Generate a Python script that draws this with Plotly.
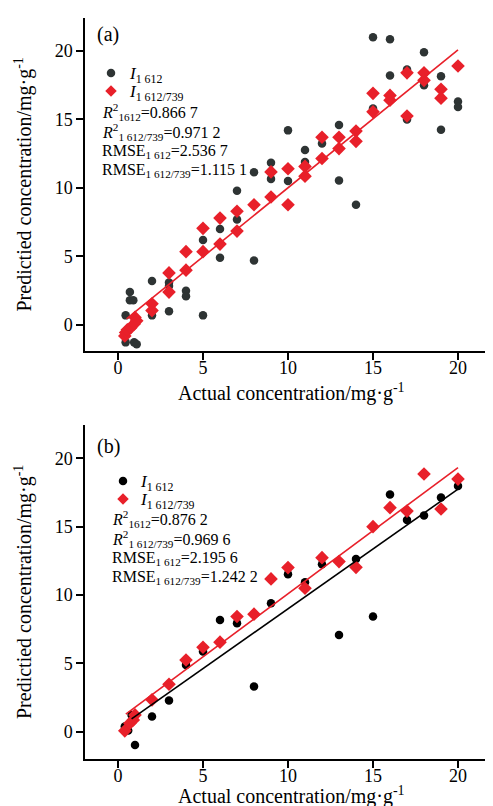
import plotly.graph_objects as go

# ---------------- data ----------------
# Panel (a)
a_i1612_x = [0.45, 0.45, 0.7, 0.7, 0.9, 0.95, 1.1, 2, 2, 3, 3, 3, 4, 4, 5, 5, 6, 6, 7, 7,
             8, 8, 9, 9, 10, 10, 11, 11, 12, 13, 13, 14, 15, 15, 16, 16, 17, 17, 18, 18,
             19, 19, 20, 20]
a_i1612_y = [0.7, -1.27, 2.4, 1.8, 1.8, -1.27, -1.4, 3.2, 0.7, 3.1, 2.85, 1.0, 2.5, 2.1,
             6.2, 0.7, 7.0, 4.9, 7.7, 9.8, 11.15, 4.7, 11.84, 10.66, 14.2, 10.5, 12.77,
             11.9, 13.25, 14.6, 10.55, 8.77, 21.0, 15.8, 20.85, 18.2, 18.65, 15.0, 19.9,
             17.5, 18.15, 14.25, 16.3, 15.9]
a_ratio_x = [0.4, 0.45, 0.55, 0.75, 0.95, 1.0, 1.1, 2, 2, 3, 3, 4, 4, 5, 5, 6, 6, 7, 7, 8,
             9, 9, 10, 10, 11, 11, 12, 12, 13, 13, 14, 14, 15, 15, 16, 16, 17, 17, 18, 18,
             19, 19, 20]
a_ratio_y = [-0.8, -0.55, -0.35, -0.2, 0.07, 0.55, 0.3, 1.55, 1.05, 3.8, 2.4, 5.35, 4.0,
             7.05, 5.35, 7.8, 5.9, 8.3, 6.85, 8.77, 11.17, 9.34, 11.4, 8.77, 11.57, 10.86,
             13.7, 12.15, 13.7, 12.87, 14.15, 13.4, 16.9, 15.55, 16.75, 16.4, 18.4, 15.25,
             18.4, 17.85, 17.2, 16.55, 18.9]
a_fit_ratio = {"slope": 1.006, "intercept": -0.05, "x0": 0.5, "x1": 20}

# Panel (b)
b_i1612_x = [0.4, 0.6, 0.8, 1.0, 2, 3, 4, 5, 6, 7, 8, 9, 10, 11, 12, 13, 14, 15, 16, 17,
             18, 19, 20]
b_i1612_y = [0.38, 0.09, 1.23, -0.97, 1.11, 2.28, 4.89, 5.87, 8.18, 7.94, 3.31, 9.40,
             11.52, 10.94, 12.25, 7.08, 12.64, 8.43, 17.37, 15.49, 15.82, 17.15, 17.98]
b_ratio_x = [0.4, 0.7, 0.9, 1.0, 2, 3, 4, 5, 6, 7, 8, 9, 10, 11, 12, 13, 14, 15, 16, 17,
             18, 19, 20]
b_ratio_y = [0.06, 0.62, 0.86, 1.23, 2.33, 3.47, 5.25, 6.18, 6.55, 8.43, 8.6, 11.18,
             12.01, 10.5, 12.74, 12.45, 12.03, 15.01, 16.4, 16.15, 18.86, 16.3, 18.49]
b_fit_i1612 = {"slope": 0.876, "intercept": 0.235, "x0": 0.8, "x1": 20}
b_fit_ratio = {"slope": 0.924, "intercept": 0.855, "x0": 0.46, "x1": 20}

ticks = [0, 5, 10, 15, 20]

stats_a = ["<i>R</i><sup>2</sup><sub>1612</sub>=0.866 7",
           "<i>R</i><sup>2</sup><sub>1 612/739</sub>=0.971 2",
           "RMSE<sub>1 612</sub>=2.536 7",
           "RMSE<sub>1 612/739</sub>=1.115 1"]
stats_b = ["<i>R</i><sup>2</sup><sub>1612</sub>=0.876 2",
           "<i>R</i><sup>2</sup><sub>1 612/739</sub>=0.969 6",
           "RMSE<sub>1 612</sub>=2.195 6",
           "RMSE<sub>1 612/739</sub>=1.242 2"]

name_i = "<i>I</i><sub>1 612</sub>"
name_r = "<i>I</i><sub>1 612/739</sub>"
x_title = "Actual concentration/mg·g<sup>-1</sup>"
y_title = "Predictied concentration/mg·g<sup>-1</sup>"

# ---------------- styling ----------------
FONT = "Liberation Serif"
RED = "#e8202a"
DARK = "#2e3434"
BLACK = "#000000"
W, H = 493, 806
ML, MR, MT, MB = 77, 3, 10, 55
PW, PH = W - ML - MR, H - MT - MB
C_SIZE, D_SIZE = 8.5, 10.5


def px_x(p):
    return (p - ML) / PW


def px_y(p):
    return (H - MB - p) / PH


def fit_line(f):
    xs = [f["x0"], f["x1"]]
    return xs, [f["slope"] * v + f["intercept"] for v in xs]


fig = go.Figure()

# panel (a)
fig.add_trace(go.Scatter(x=a_i1612_x, y=a_i1612_y, mode="markers", name=name_i,
                         marker=dict(symbol="circle", size=C_SIZE, color=DARK),
                         xaxis="x", yaxis="y", showlegend=False))
fig.add_trace(go.Scatter(x=a_ratio_x, y=a_ratio_y, mode="markers", name=name_r,
                         marker=dict(symbol="diamond", size=D_SIZE, color=RED),
                         xaxis="x", yaxis="y", showlegend=False))
lx, ly = fit_line(a_fit_ratio)
fig.add_trace(go.Scatter(x=lx, y=ly, mode="lines", line=dict(color=RED, width=1.6),
                         showlegend=False, xaxis="x", yaxis="y"))

# panel (b)
fig.add_trace(go.Scatter(x=b_i1612_x, y=b_i1612_y, mode="markers", name=name_i,
                         marker=dict(symbol="circle", size=C_SIZE, color=BLACK),
                         xaxis="x2", yaxis="y2", showlegend=False))
fig.add_trace(go.Scatter(x=b_ratio_x, y=b_ratio_y, mode="markers", name=name_r,
                         marker=dict(symbol="diamond", size=D_SIZE, color=RED),
                         xaxis="x2", yaxis="y2", showlegend=False))
lx, ly = fit_line(b_fit_i1612)
fig.add_trace(go.Scatter(x=lx, y=ly, mode="lines", line=dict(color=BLACK, width=1.6),
                         showlegend=False, xaxis="x2", yaxis="y2"))
lx, ly = fit_line(b_fit_ratio)
fig.add_trace(go.Scatter(x=lx, y=ly, mode="lines", line=dict(color=RED, width=1.6),
                         showlegend=False, xaxis="x2", yaxis="y2"))

axis_common = dict(showline=True, linecolor="black", linewidth=1.5, ticks="outside",
                   ticklen=7, tickwidth=1.5, tickcolor="black", showgrid=False,
                   zeroline=False, tickvals=ticks, mirror=False,
                   tickfont=dict(family=FONT, size=18, color="black"))
x_axis_common = dict(axis_common, ticklabelstandoff=-7)
y_axis_common = dict(axis_common, ticklabelstandoff=0)

xr = [(ML - 110) / 17.0, (W - MR - 110) / 17.0]
top_a, bot_a = 10, 343
top_b, bot_b = 417, 751

fig.update_layout(
    width=W, height=H,
    margin=dict(l=ML, r=MR, t=MT, b=MB),
    paper_bgcolor="white", plot_bgcolor="white",
    font=dict(family=FONT, color="black"),
    showlegend=False,
    xaxis=dict(x_axis_common, range=xr, anchor="y", domain=[0, 1]),
    yaxis=dict(y_axis_common, range=[-1.9, 22.4], anchor="x",
               domain=[px_y(bot_a), px_y(top_a)]),
    xaxis2=dict(x_axis_common, range=xr, anchor="y2", domain=[0, 1]),
    yaxis2=dict(y_axis_common, range=[-2.0, 22.45], anchor="x2",
                domain=[px_y(bot_b), px_y(top_b)]),
)

# legend keys drawn as pixel-sized shapes
shapes = []


def circle_key(cx, cy, color):
    r = C_SIZE / 2
    shapes.append(dict(type="circle", xref="paper", yref="paper",
                       xsizemode="pixel", ysizemode="pixel",
                       xanchor=px_x(cx), yanchor=px_y(cy),
                       x0=-r, x1=r, y0=-r, y1=r,
                       fillcolor=color, line=dict(width=0)))


def diamond_key(cx, cy, color):
    r = D_SIZE / 2 + 0.5
    shapes.append(dict(type="path", xref="paper", yref="paper",
                       xsizemode="pixel", ysizemode="pixel",
                       xanchor=px_x(cx), yanchor=px_y(cy),
                       path=f"M0,{r} L{r},0 L0,{-r} L{-r},0 Z",
                       fillcolor=color, line=dict(width=0)))


circle_key(103, 65, DARK)
diamond_key(103, 83, RED)
circle_key(115, 473, BLACK)
diamond_key(115, 491, RED)
fig.update_layout(shapes=shapes)

ann = []


def label(txt, x, y, size, **kw):
    d = dict(text=txt, x=px_x(x), y=px_y(y), xref="paper", yref="paper",
             xanchor="left", yanchor="middle", showarrow=False,
             font=dict(family=FONT, size=size, color="black"))
    d.update(kw)
    ann.append(d)


label("(a)", 87, 27, 20)
label("(b)", 87, 438, 20)
label(name_i, 119, 67, 17)
label(name_r, 119, 85, 17)
label(name_i, 130, 475, 17)
label(name_r, 130, 493, 17)
for txt, yy in zip(stats_a, [104, 124, 143.5, 163]):
    label(txt, 92, yy, 16)
for txt, yy in zip(stats_b, [511, 530.5, 550, 569]):
    label(txt, 102, yy, 16)
# axis titles
label(x_title, (ML + W - MR) / 2, 384, 20, xanchor="center")
label(x_title, (ML + W - MR) / 2, 788, 20, xanchor="center")
label(y_title, 15, (top_a + bot_a) / 2, 20, xanchor="center", textangle=-90)
label(y_title, 15, (top_b + bot_b) / 2, 20, xanchor="center", textangle=-90)
fig.update_layout(annotations=ann)

fig.write_html("out.html")
